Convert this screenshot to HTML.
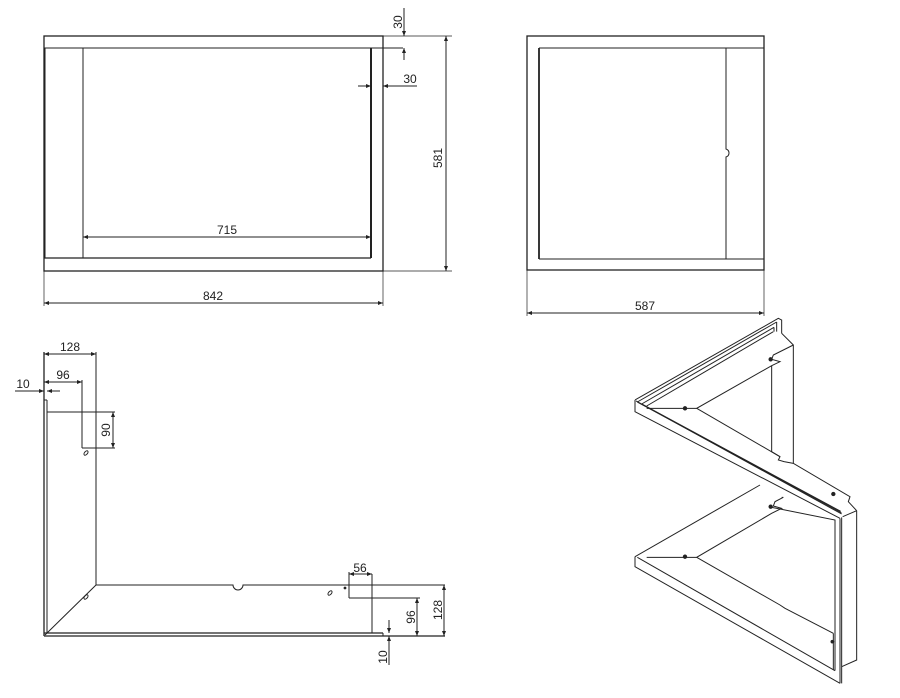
<!DOCTYPE html>
<html><head><meta charset="utf-8"><style>
html,body{margin:0;padding:0;background:#fff;width:900px;height:698px;overflow:hidden}
svg{display:block}
text{font-family:"Liberation Sans",sans-serif;fill:#222}
</style></head><body>
<svg width="900" height="698" viewBox="0 0 900 698" xmlns="http://www.w3.org/2000/svg">
<defs>
<marker id="a" viewBox="0 0 10 10" refX="10" refY="5" markerWidth="7" markerHeight="5" orient="auto-start-reverse" markerUnits="userSpaceOnUse"><path d="M0,1 L10,5 L0,9 z" fill="#222"/></marker>
</defs>
<g stroke="#222" fill="none" stroke-width="1">
<!-- Front view -->
<rect x="44" y="36" width="339" height="235" stroke-width="1.3"/>
<line x1="44" y1="48" x2="403" y2="48"/>
<line x1="44" y1="258" x2="371" y2="258" stroke-width="1.3"/>
<line x1="45" y1="48" x2="45" y2="258"/>
<line x1="83" y1="48" x2="83" y2="258"/>
<line x1="371" y1="48" x2="371" y2="258" stroke-width="2"/>
<!-- dims -->
<line x1="404" y1="8" x2="404" y2="36" marker-end="url(#a)"/>
<line x1="404" y1="60" x2="404" y2="48" marker-end="url(#a)"/>
<line x1="358" y1="86" x2="371" y2="86" marker-end="url(#a)"/>
<line x1="417" y1="86" x2="383" y2="86" marker-end="url(#a)"/>
<line x1="383" y1="36" x2="452" y2="36" stroke-width="0.7"/>
<line x1="383" y1="271" x2="452" y2="271" stroke-width="0.7"/>
<line x1="446" y1="36" x2="446" y2="271" marker-start="url(#a)" marker-end="url(#a)"/>
<line x1="83" y1="237" x2="371" y2="237" marker-start="url(#a)" marker-end="url(#a)"/>
<line x1="44" y1="271" x2="44" y2="306" stroke-width="0.7"/>
<line x1="383" y1="271" x2="383" y2="306" stroke-width="0.7"/>
<line x1="44" y1="303" x2="383" y2="303" marker-start="url(#a)" marker-end="url(#a)"/>

<!-- Side view -->
<rect x="527" y="36" width="237" height="234" stroke-width="1.3"/>
<line x1="539" y1="48" x2="764" y2="48"/>
<line x1="539" y1="48" x2="539" y2="259" stroke-width="1.8"/>
<line x1="539" y1="259" x2="764" y2="259"/>
<path d="M726,48 V149 q3,1 3,4 q0,3 -3,4 V259"/>
<line x1="527" y1="270" x2="527" y2="316" stroke-width="0.7"/>
<line x1="764" y1="270" x2="764" y2="316" stroke-width="0.7"/>
<line x1="527" y1="313" x2="764" y2="313" marker-start="url(#a)" marker-end="url(#a)"/>

<!-- L view -->
<line x1="44" y1="352" x2="44" y2="636" stroke-width="1.3"/>
<line x1="47" y1="400" x2="47" y2="633"/>
<line x1="44" y1="400" x2="47" y2="400"/>
<line x1="96" y1="352" x2="96" y2="585"/>
<line x1="47" y1="412" x2="115" y2="412"/>
<line x1="82" y1="380" x2="82" y2="448"/>
<line x1="82" y1="448" x2="115" y2="448"/>
<line x1="113" y1="412" x2="113" y2="448" marker-start="url(#a)" marker-end="url(#a)"/>
<line x1="44" y1="354" x2="96" y2="354" marker-start="url(#a)" marker-end="url(#a)"/>
<line x1="44" y1="382" x2="82" y2="382" marker-start="url(#a)" marker-end="url(#a)"/>
<line x1="15" y1="391" x2="44" y2="391" marker-end="url(#a)"/>
<line x1="60" y1="391" x2="47" y2="391" marker-end="url(#a)"/>
<ellipse cx="86" cy="453" rx="1.5" ry="2.6" transform="rotate(40 86 453)"/>
<path d="M96,585 H233 a5,5 0 0 0 10,0 H445" />
<line x1="96" y1="585" x2="45" y2="635"/>
<ellipse cx="86" cy="597" rx="1.5" ry="2.6" transform="rotate(40 86 597)"/>
<ellipse cx="330" cy="593" rx="1.5" ry="2.6" transform="rotate(40 330 593)"/>
<circle cx="345" cy="588" r="0.9" fill="#222"/>
<line x1="44" y1="633" x2="383" y2="633" stroke-width="1.2"/>
<line x1="44" y1="636" x2="445" y2="636" stroke-width="1.2"/>
<line x1="383" y1="633" x2="383" y2="636"/>
<line x1="372" y1="574" x2="372" y2="633"/>
<line x1="349" y1="572" x2="349" y2="598"/>
<line x1="349" y1="598" x2="420" y2="598"/>
<line x1="349" y1="574" x2="372" y2="574" marker-start="url(#a)" marker-end="url(#a)"/>
<line x1="417" y1="598" x2="417" y2="636" marker-start="url(#a)" marker-end="url(#a)"/>
<line x1="444" y1="585" x2="444" y2="636" marker-start="url(#a)" marker-end="url(#a)"/>
<line x1="389" y1="620" x2="389" y2="633" marker-end="url(#a)"/>
<line x1="389" y1="665" x2="389" y2="636" marker-end="url(#a)"/>
</g>

<!-- Iso view (zoom coords) -->
<g transform="translate(600,300) scale(0.33333)" stroke="#222" fill="none" stroke-width="3">
<path d="M105,300 L535,55 L545,60 L545,100"/>
<line x1="112" y1="306" x2="530" y2="66"/>
<line x1="125" y1="312" x2="522" y2="82"/>
<line x1="140" y1="318" x2="520" y2="95"/>
<path d="M530,66 V95 M522,82 V95"/>
<path d="M105,300 V335 L720,655"/>
<line x1="108" y1="303" x2="725" y2="642"/>
<line x1="125" y1="312" x2="722" y2="634"/>
<line x1="112" y1="306" x2="724" y2="638"/>
<path d="M545,100 L580,135 V490"/>
<path d="M580,135 L520,165 L515,178 L540,185 L515,197 L290,325 L140,325"/>
<path d="M515,197 V455 L540,470 L535,480 L552,485 L580,490 L750,590 L745,605 L770,632"/>
<path d="M290,325 L540,470"/>
<path d="M770,632 V1080 L725,1100"/>
<path d="M720,655 V1150 M725,652 V1150 M728,650 L770,632"/>
<path d="M105,770 L480,555"/>
<path d="M105,770 V800 L720,1150"/>
<line x1="112" y1="772" x2="705" y2="1112"/>
<path d="M140,772 H290 L515,640 L545,625 L520,618 L525,605 L550,592 L545,592"/>
<path d="M515,622 L705,660 V1112"/>
<path d="M290,772 L540,915 L555,925 L700,1000"/>
<path d="M700,1000 V1110"/>
<circle cx="512" cy="178" r="5" fill="#222"/>
<circle cx="255" cy="325" r="5" fill="#222"/>
<circle cx="700" cy="582" r="5" fill="#222"/>
<circle cx="512" cy="620" r="5" fill="#222"/>
<circle cx="255" cy="770" r="5" fill="#222"/>
<circle cx="697" cy="1025" r="4" fill="#222"/>
</g>

<g font-size="12">
<text x="398" y="22" transform="rotate(-90 398 22)" text-anchor="middle" dy="4">30</text>
<text x="410" y="83" text-anchor="middle">30</text>
<text x="438" y="158" transform="rotate(-90 438 158)" text-anchor="middle" dy="4">581</text>
<text x="227" y="234" text-anchor="middle">715</text>
<text x="213" y="300" text-anchor="middle">842</text>
<text x="645" y="310" text-anchor="middle">587</text>
<text x="70" y="351" text-anchor="middle">128</text>
<text x="63" y="379" text-anchor="middle">96</text>
<text x="23" y="388" text-anchor="middle">10</text>
<text x="106" y="430" transform="rotate(-90 106 430)" text-anchor="middle" dy="4">90</text>
<text x="360" y="572" text-anchor="middle">56</text>
<text x="411" y="617" transform="rotate(-90 411 617)" text-anchor="middle" dy="4">96</text>
<text x="438" y="610" transform="rotate(-90 438 610)" text-anchor="middle" dy="4">128</text>
<text x="383" y="657" transform="rotate(-90 383 657)" text-anchor="middle" dy="4">10</text>
</g>
</svg>
</body></html>
